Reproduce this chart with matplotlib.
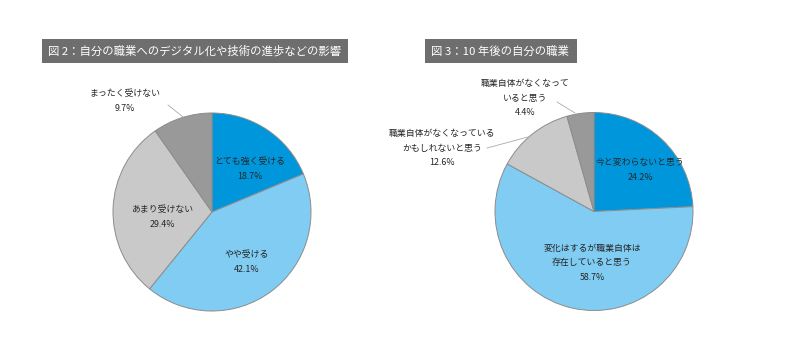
import matplotlib
matplotlib.use("Agg")
import matplotlib.pyplot as plt
from matplotlib.patches import Rectangle

plt.rcParams["font.family"] = ["Noto Sans CJK JP", "DejaVu Sans"]

# Chart data
title_left = "図 2：自分の職業へのデジタル化や技術の進歩などの影響"
labels_left = ["とても強く受ける", "やや受ける", "あまり受けない", "まったく受けない"]
values_left = [18.7, 42.1, 29.4, 9.7]

title_right = "図 3：10 年後の自分の職業"
labels_right = ["今と変わらないと思う", "変化はするが職業自体は\n存在していると思う",
                "職業自体がなくなっている\nかもしれないと思う", "職業自体がなくなって\nいると思う"]
values_right = [24.2, 58.7, 12.6, 4.4]

colors = ["#0096dc", "#80ccf3", "#c9c9c9", "#999999"]
text_color = "#262626"
H = 360

fig = plt.figure(figsize=(8, 3.6), dpi=100)
ax = fig.add_axes([0, 0, 1, 1])
ax.set_xlim(0, 800)
ax.set_ylim(0, H)
ax.set_aspect("equal")
ax.axis("off")


def draw_pie(cx, cy, r, values, labels, label_pos, outside):
    ax.pie(values, colors=colors, startangle=90, counterclock=False,
           center=(cx, H - cy), radius=r, frame=True,
           wedgeprops=dict(edgecolor="#8c8c8c", linewidth=0.7))
    for i, (lab, v) in enumerate(zip(labels, values)):
        x, y = label_pos[i]
        ax.text(x, H - y, f"{lab}\n{v}%", ha="center", va="center",
                fontsize=6.4, color=text_color, linespacing=1.85)
    for (x0, y0), (x1, y1) in outside:
        ax.plot([x0, x1], [H - y0, H - y1], color="#aaaaaa", lw=0.6)


def draw_title(x0, x1, text):
    ax.add_patch(Rectangle((x0, H - 63), x1 - x0, 24, facecolor="#6e6e6e",
                           edgecolor="none"))
    ax.text(x0 + 6, H - 51, text, ha="left", va="center", fontsize=8.2,
            color="white")


draw_title(42, 348, title_left)
draw_title(425, 577, title_right)

draw_pie(212, 212, 99, values_left, labels_left,
         [(250, 169), (247, 262), (162, 217), (125, 101)],
         [((168, 105), (183, 117))])
draw_pie(594, 211.5, 99, values_right, labels_right,
         [(640, 170), (592, 263), (442, 148), (525, 98)],
         [((557, 102), (575, 113)), ((487, 148), (528, 137))])

fig.savefig("out.png", dpi=100)
